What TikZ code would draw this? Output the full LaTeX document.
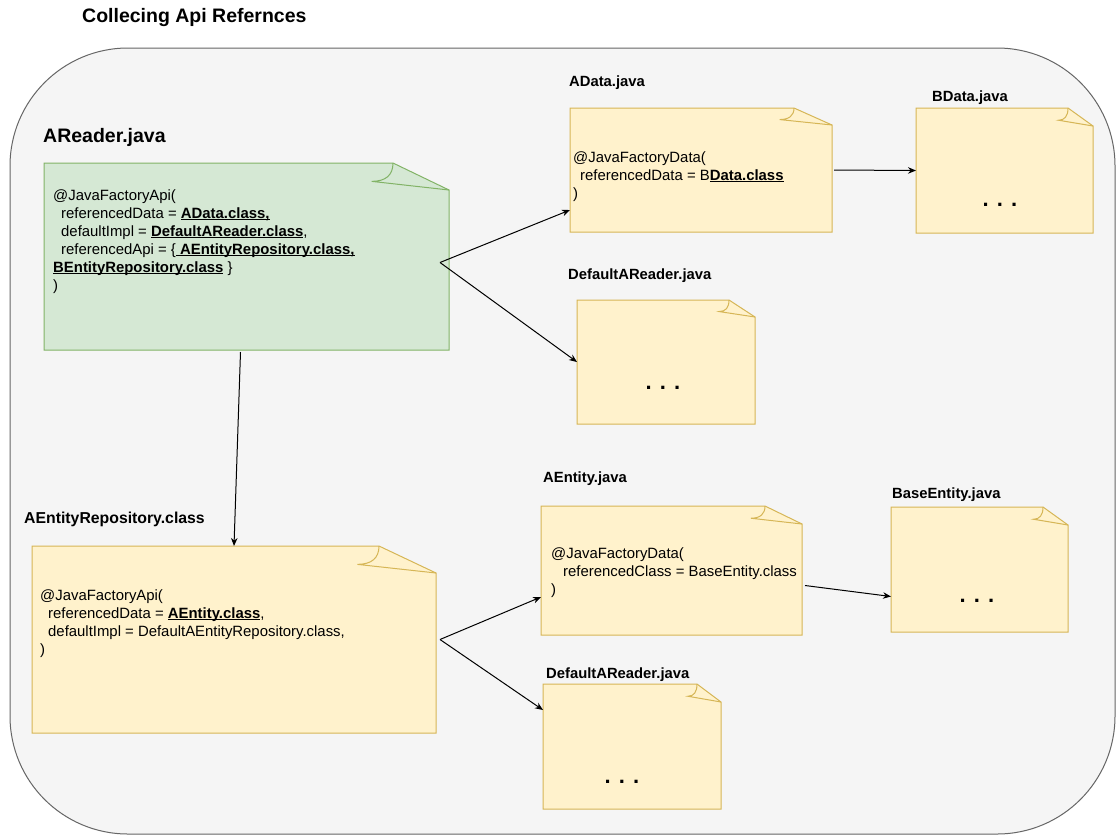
\documentclass[tikz,border=0pt]{standalone}
\usepackage{fontspec}
\setmainfont{Liberation Sans}
\usetikzlibrary{arrows.meta}

\definecolor{panelfill}{HTML}{F5F5F5}
\definecolor{panelline}{HTML}{666666}
\definecolor{notegreen}{HTML}{D5E8D4}
\definecolor{notegreenline}{HTML}{82B366}
\definecolor{noteyellow}{HTML}{FFF2CC}
\definecolor{noteyellowline}{HTML}{D6B656}

\newsavebox{\linkbox}
\newcommand{\codelink}[1]{\sbox{\linkbox}{\bfseries #1}\rlap{\rule[-1.8pt]{\wd\linkbox}{0.9pt}}\usebox{\linkbox}}

% note outline with folded corner: node, fold width, fold height, style
\newcommand{\drawnote}[4]{
  \filldraw[#4] (#1.north west) -- ([xshift=-#2pt]#1.north east) -- ([yshift=-#3pt]#1.north east)
    -- (#1.south east) -- (#1.south west) -- cycle;
  \draw[#4, fill=none] ([xshift=-#2pt]#1.north east) .. controls +(0,0.45*#3) and +(0.25*#2,0) ..
    ([shift={(-1.38*#2,0.68*#3)}]#1.north east) -- ([yshift=-#3pt]#1.north east);
}

\begin{document}
\begin{tikzpicture}[x=1pt, y=-1pt,
    notebox/.style={rectangle, anchor=north west, inner sep=0, outer sep=0},
    greennote/.style={fill=notegreen, draw=notegreenline, line width=1pt},
    yellownote/.style={fill=noteyellow, draw=noteyellowline, line width=1pt},
    codetext/.style={anchor=north west, inner sep=0, align=left, font=\fontsize{14.9}{18}\selectfont},
    fname/.style={anchor=base west, inner sep=0, font=\bfseries\fontsize{14.8}{16}\selectfont},
    bigname/.style={anchor=base west, inner sep=0, font=\bfseries\fontsize{19.5}{22}\selectfont},
    dots/.style={anchor=base, inner sep=0, font=\bfseries\fontsize{22}{22}\selectfont},
    refarrow/.style={draw=black, line width=1pt, -{Stealth[length=8pt, width=6.5pt]}}]

  \useasboundingbox (0,0) rectangle (1116,836);
  \fill[white] (0,0) rectangle (1116,836);

  % panel
  \node[bigname] (title) at (82,22) {Collecing Api Refernces};
  \draw[fill=panelfill, draw=panelline, line width=1pt, rounded corners=118pt] (10,48) rectangle (1115,834);

  % notes
  \node[notebox, minimum width=405, minimum height=187] (areader) at (44,163) {};
  \node[notebox, minimum width=262, minimum height=124] (adata) at (570,108) {};
  \node[notebox, minimum width=177, minimum height=125] (bdata) at (916,108) {};
  \node[notebox, minimum width=178, minimum height=124] (dflt1) at (577,300) {};
  \node[notebox, minimum width=404, minimum height=187] (repo) at (32,546) {};
  \node[notebox, minimum width=261, minimum height=129] (aentity) at (541,506) {};
  \node[notebox, minimum width=177, minimum height=125] (base) at (891,507) {};
  \node[notebox, minimum width=178, minimum height=125] (dflt2) at (543,684) {};

  \drawnote{areader}{56}{27}{greennote}
  \drawnote{adata}{38}{17}{yellownote}
  \drawnote{bdata}{25}{18}{yellownote}
  \drawnote{dflt1}{26}{17}{yellownote}
  \drawnote{repo}{57}{27}{yellownote}
  \drawnote{aentity}{37}{18}{yellownote}
  \drawnote{base}{25}{18}{yellownote}
  \drawnote{dflt2}{24}{18}{yellownote}

  % file names
  \node[bigname] (areader-lbl) at (43,142) {AReader.java};
  \node[fname] (adata-lbl) at (569,86.3) {AData.java};
  \node[fname] (bdata-lbl) at (932,101.3) {BData.java};
  \node[fname] (dflt1-lbl) at (568,279.3) {DefaultAReader.java};
  \node[fname, font=\bfseries\fontsize{15.8}{18}\selectfont] (repo-lbl) at (24,523.7) {AEntityRepository.class};
  \node[fname] (aentity-lbl) at (543,482.3) {AEntity.java};
  \node[fname] (base-lbl) at (892,498.3) {BaseEntity.java};
  \node[fname] (dflt2-lbl) at (546,678.3) {DefaultAReader.java};

  % contents
  \node[codetext] (areader-code) at (53,189.5) {@JavaFactoryApi(\\
    \hspace*{8pt}referencedData = \codelink{AData.class,}\\
    \hspace*{8pt}defaultImpl = \codelink{DefaultAReader.class},\\
    \hspace*{8pt}referencedApi = \{\codelink{\ AEntityRepository.class,}\\
    \codelink{BEntityRepository.class} \}\\
    )};
  \node[codetext] (adata-code) at (573,151.5) {@JavaFactoryData(\\
    \hspace*{7pt}referencedData = B\codelink{Data.class}\\
    )};
  \node[codetext] (repo-code) at (40,589.5) {@JavaFactoryApi(\\
    \hspace*{8pt}referencedData = \codelink{AEntity.class},\\
    \hspace*{8pt}defaultImpl = DefaultAEntityRepository.class,\\
    )};
  \node[codetext] (aentity-code) at (551,547.5) {@JavaFactoryData(\\
    \hspace*{12pt}referencedClass = BaseEntity.class\\
    )};

  \node[dots] (bdata-dots) at (1000,206) {. . .};
  \node[dots] (dflt1-dots) at (663,389) {. . .};
  \node[dots] (base-dots) at (977,602) {. . .};
  \node[dots] (dflt2-dots) at (622,783) {. . .};

  % references
  \coordinate (areader-out) at ([xshift=-9pt,yshift=-6pt]areader.east);
  \coordinate (repo-out) at ([xshift=4pt]repo.east);

  \draw[refarrow] (areader-out) -- ([yshift=22pt]adata.south west);
  \draw[refarrow] (areader-out) -- (dflt1.west);
  \draw[refarrow] ([xshift=-6pt,yshift=-2pt]areader.south) -- (repo.north);
  \draw[refarrow] ([xshift=2pt]adata.east) -- (bdata.west);
  \draw[refarrow] (repo-out) -- ([yshift=38pt]aentity.south west);
  \draw[refarrow] (repo-out) -- ([yshift=-26pt]dflt2.north west);
  \draw[refarrow] ([xshift=3pt,yshift=-15pt]aentity.east) -- ([yshift=-27pt]base.west);

\end{tikzpicture}
\end{document}
